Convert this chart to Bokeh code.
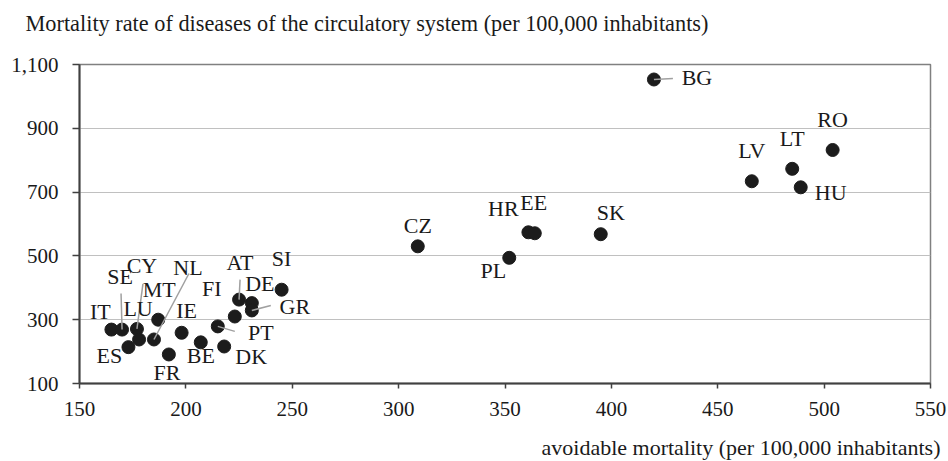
import numpy as np
import pandas as pd
from bokeh.plotting import figure
from bokeh.models import (ColumnDataSource, Range1d, FixedTicker, NumeralTickFormatter, Title)
from bokeh.core.properties import value
from bokeh.embed import file_html
from bokeh.resources import INLINE

# ---------------- data ----------------
countries = ["BG", "RO", "LT", "HU", "LV", "SK", "HR", "EE", "PL", "CZ",
             "IT", "SE", "CY", "LU", "ES", "NL", "MT", "IE", "FR", "BE",
             "DK", "PT", "FI", "AT", "DE", "GR", "SI"]
avoidable = [420, 504, 485, 489, 466, 395, 361, 364, 352, 309,
             165, 170, 177, 178, 173, 185, 187, 198, 192, 207,
             218, 215, 223, 225, 231, 231, 245]
circulatory = [1053, 832, 773, 715, 734, 568, 574, 571, 494, 530,
               269, 269, 271, 238, 214, 238, 300, 259, 191, 229,
               216, 279, 310, 363, 352, 329, 394]

x_ticks = [150, 200, 250, 300, 350, 400, 450, 500, 550]
y_ticks = [100, 300, 500, 700, 900, 1100]

title_text = "Mortality rate of diseases of the circulatory system (per 100,000 inhabitants)"
xlabel_text = "avoidable mortality (per 100,000 inhabitants)"

# ---------------- label placement (pixel offsets, style only) ----------------
label_dx = [43, 0, 0, 30, 0, 10, -25, -1, -16, 0,
            -11, -2, 5, -1, -19, 34, 1, 5, -2, 0,
            27, 43, -23, 1, 8, 43, 0]
label_dy = [-2, -30, -30, 5, -31, -22, -24, -31, 13, -21,
            -18, -53, -63, -31, 8, -72, -30, -22, 18, 13,
            10, 6, -28, -37, -20, -4, -31]
# leader lines: (country, end dx, end dy) in pixels from the point
leaders = {"BG": (19, -1), "SE": (-1, -36), "CY": (6, -45), "NL": (35, -66),
           "AT": (1, -20), "GR": (19, -5), "PT": (17, 5)}

FONT = "Liberation Serif"
W, H = 948, 461
ML, MR, MT_, MB = 79, 18, 64, 78
x0, x1, y0, y1 = 150, 550, 100, 1100
fw = W - ML - MR
fh = H - MT_ - MB
xpx = fw / (x1 - x0)
ypx = fh / (y1 - y0)

df = pd.DataFrame(dict(c=countries, x=avoidable, y=circulatory,
                       dx=label_dx, dy=label_dy))
src = ColumnDataSource(df)

p = figure(width=W, height=H, output_backend="svg", toolbar_location=None,
           x_range=Range1d(x0, x1), y_range=Range1d(y0, y1),
           min_border_left=ML, min_border_right=MR,
           min_border_top=MT_, min_border_bottom=MB)
p.background_fill_color = "white"
p.border_fill_color = "white"
p.outline_line_color = "#808080"
p.outline_line_width = 1.5

# grid
p.xgrid.visible = False
p.ygrid.grid_line_color = "#c0c0c0"
p.ygrid.grid_line_width = 1
p.ygrid.ticker = FixedTicker(ticks=y_ticks)

# axes
p.xaxis.ticker = FixedTicker(ticks=x_ticks)
p.yaxis.ticker = FixedTicker(ticks=y_ticks)
p.yaxis.formatter = NumeralTickFormatter(format="0,0")
for ax in (p.xaxis[0], p.yaxis[0]):
    ax.axis_line_color = "#404040"
    ax.axis_line_width = 2
    ax.major_tick_line_color = "#404040"
    ax.major_tick_line_width = 1.5
    ax.minor_tick_line_color = None
    ax.major_tick_in = 0
    ax.major_label_text_font = FONT
    ax.major_label_text_font_size = "21px"
    ax.major_label_text_color = "#1a1a1a"
p.yaxis.major_tick_out = 7
p.yaxis.major_label_standoff = 14
p.xaxis.major_tick_out = 5
p.xaxis.major_label_standoff = 13

# points
p.scatter("x", "y", source=src, size=13, fill_color="#1c1c1c", line_color="#1c1c1c")

# leader lines
lx0, ly0, lx1, ly1 = [], [], [], []
for c, (ex, ey) in leaders.items():
    i = countries.index(c)
    lx0.append(avoidable[i]); ly0.append(circulatory[i])
    lx1.append(avoidable[i] + ex / xpx); ly1.append(circulatory[i] - ey / ypx)
p.segment(x0=lx0, y0=ly0, x1=lx1, y1=ly1, line_color="#a0a0a0", line_width=1.5)

# labels
p.text("x", "y", text="c", source=src, x_offset="dx", y_offset="dy",
       text_font=value(FONT), text_font_size="22px", text_color="#1a1a1a",
       text_align="center", text_baseline="middle")

# spacer panels + titles
p.add_layout(Title(text=" ", text_font_size="1px", standoff=26), "above")
p.add_layout(Title(text=title_text, align="left", offset=-54, standoff=0,
                   text_font=FONT, text_font_size="22.3px", text_font_style="normal",
                   text_color="#1a1a1a"), "above")
p.add_layout(Title(text=" ", text_font_size="1px", standoff=11), "below")
p.add_layout(Title(text=xlabel_text, align="right", offset=-10, standoff=0,
                   text_font=FONT, text_font_size="22px", text_font_style="normal",
                   text_color="#1a1a1a"), "below")

open("out.html", "w").write(file_html(p, INLINE))
